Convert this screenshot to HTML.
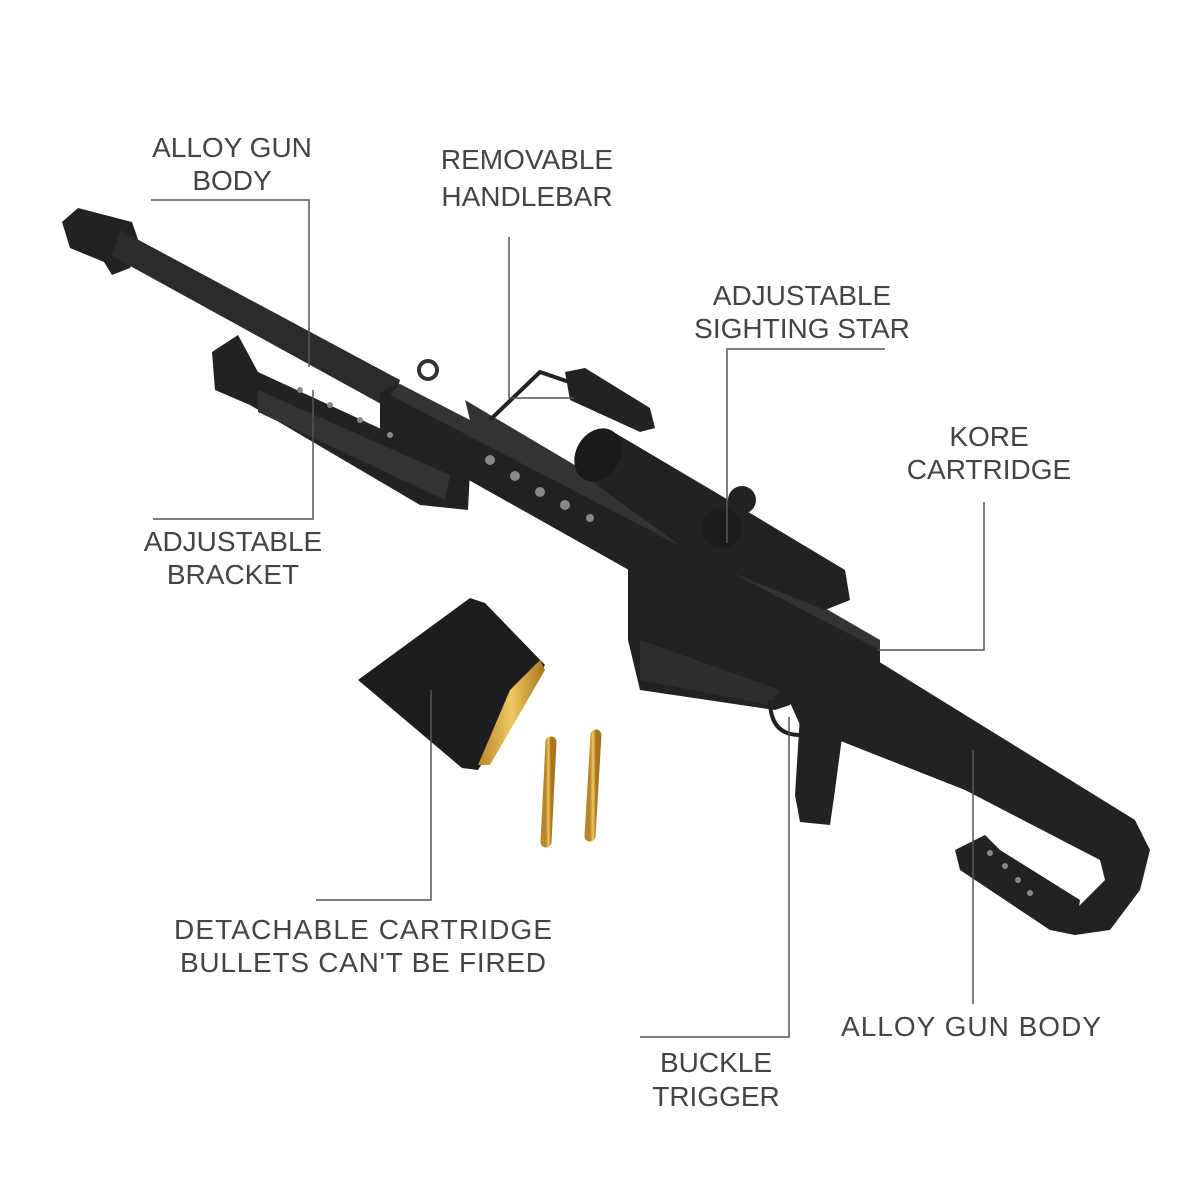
<!DOCTYPE html>
<html><head><meta charset="utf-8"><style>
html,body{margin:0;padding:0;background:#fff;}
svg{display:block}
text{font-family:"Liberation Sans",sans-serif;font-size:28px;fill:#444;text-anchor:middle}
</style></head><body>
<svg width="1200" height="1200" viewBox="0 0 1200 1200">
<rect width="1200" height="1200" fill="#fff"/>
<defs>
<linearGradient id="gold" x1="0" x2="1"><stop offset="0" stop-color="#b8862a"/><stop offset="0.5" stop-color="#f0c860"/><stop offset="1" stop-color="#a8741e"/></linearGradient>
</defs>
<!-- gun -->
<g fill="#222" stroke="none">
 <!-- muzzle brake -->
 <polygon points="62,222 78,208 132,222 140,245 130,268 112,275 104,262 70,248"/>
 <!-- barrel -->
 <polygon points="120,230 400,380 392,410 112,256" fill="#2b2b2b"/>
 <!-- bipod bracket -->
 <polygon points="212,352 238,335 258,372 470,470 468,510 420,505 250,405 215,390"/>
 <polygon points="258,390 450,475 445,500 258,412" fill="#333"/>
 <!-- receiver/rail -->
 <polygon points="380,392 400,384 880,640 880,690 860,700 380,430"/>
 <polygon points="400,384 470,420 465,400 600,480 690,530 880,640 880,650 390,395" fill="#333"/>
 <!-- rear sight ring -->
 <circle cx="428" cy="370" r="9" fill="none" stroke="#333" stroke-width="4"/>
 <!-- handlebar -->
 <polyline points="490,420 540,372 578,385" fill="none" stroke="#222" stroke-width="4"/>
 <polygon points="565,372 585,368 650,408 655,428 640,432 570,400"/>
 <!-- scope -->
 <polygon points="580,445 610,430 720,495 845,570 850,600 825,610 700,560 590,480"/>
 <ellipse cx="598" cy="455" rx="22" ry="28" transform="rotate(30 598 455)" fill="#1a1a1a"/>
 <circle cx="742" cy="500" r="14"/>
 <circle cx="722" cy="528" r="20" fill="#1c1c1c"/>
 <!-- lower receiver panel -->
 <polygon points="628,560 650,555 830,650 800,690 790,705 775,710 640,690 628,640"/>
 <polygon points="640,640 780,690 770,705 640,680" fill="#2e2e2e"/>
 <!-- stock -->
 <polygon points="780,680 860,650 1135,820 1150,850 1140,890 1110,930 1075,935 1070,915 1105,880 1100,860 965,790 800,725"/>
 <polygon points="955,850 985,835 1000,850 1080,900 1075,935 1050,930 960,870"/>
 <circle cx="990" cy="853" r="3" fill="#888"/><circle cx="1005" cy="866" r="3" fill="#888"/><circle cx="1018" cy="880" r="3" fill="#888"/><circle cx="1030" cy="893" r="3" fill="#888"/>
 <!-- trigger guard / grip -->
 <path d="M770,700 Q770,735 800,735" fill="none" stroke="#222" stroke-width="4"/>
 <polygon points="800,715 845,715 835,790 830,825 800,822 795,795"/>
 <polygon points="820,700 870,700 860,720 820,720"/>
 <!-- holes -->
 <g fill="#888">
 <circle cx="490" cy="460" r="5"/><circle cx="515" cy="476" r="5"/><circle cx="540" cy="492" r="5"/><circle cx="565" cy="505" r="5"/><circle cx="590" cy="518" r="4"/>
 <circle cx="300" cy="390" r="3"/><circle cx="330" cy="405" r="3"/><circle cx="360" cy="420" r="3"/><circle cx="390" cy="435" r="3"/>
 </g>
</g>
<!-- magazine -->
<polygon points="358,680 470,598 485,603 545,665 478,770 462,768" fill="#1d1d1d"/>
<polygon points="510,690 540,660 545,670 490,765 478,765" fill="url(#gold)"/>
<!-- bullets -->
<line x1="551" y1="742" x2="546" y2="842" stroke="url(#gold)" stroke-width="11" stroke-linecap="round"/>
<line x1="596" y1="735" x2="590" y2="836" stroke="url(#gold)" stroke-width="11" stroke-linecap="round"/>
<!-- callout lines -->
<g stroke="#555" stroke-width="1.5" fill="none">
 <polyline points="151,200 309,200 309,367"/>
 <polyline points="509,237 509,398 574,398"/>
 <polyline points="885,349 727,349 727,543"/>
 <polyline points="984,502 984,650 877,650"/>
 <polyline points="313,390 313,519 153,519"/>
 <polyline points="431,690 431,900 316,900"/>
 <polyline points="789,717 789,1037 640,1037"/>
 <polyline points="973,750 973,1004"/>
</g>
<!-- labels -->
<text x="232" y="157">ALLOY GUN</text>
<text x="232" y="190">BODY</text>
<text x="527" y="169">REMOVABLE</text>
<text x="527" y="206">HANDLEBAR</text>
<text x="802" y="305">ADJUSTABLE</text>
<text x="802" y="338">SIGHTING STAR</text>
<text x="989" y="446">KORE</text>
<text x="989" y="479">CARTRIDGE</text>
<text x="233" y="551">ADJUSTABLE</text>
<text x="233" y="584">BRACKET</text>
<text x="363" y="939" textLength="378">DETACHABLE CARTRIDGE</text>
<text x="363" y="972" textLength="366">BULLETS CAN'T BE FIRED</text>
<text x="971" y="1036" textLength="260">ALLOY GUN BODY</text>
<text x="716" y="1072">BUCKLE</text>
<text x="716" y="1106">TRIGGER</text>
</svg>
</body></html>
